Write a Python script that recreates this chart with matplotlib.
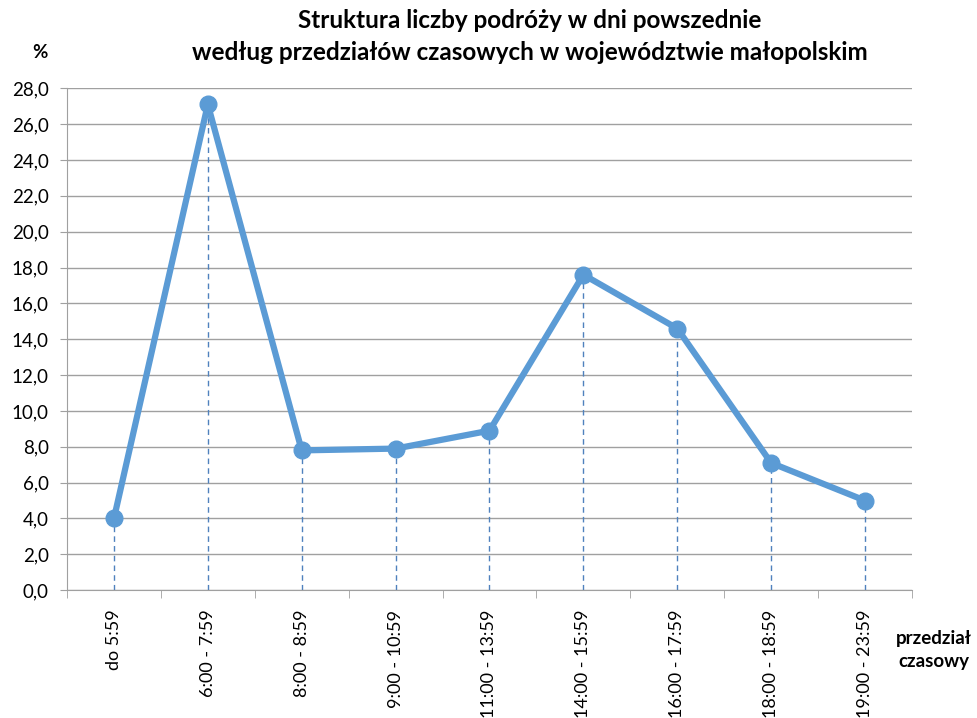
import numpy as np
import matplotlib.pyplot as plt

przedzialy = ["do 5:59", "6:00 - 7:59", "8:00 - 8:59", "9:00 - 10:59", "11:00 - 13:59",
              "14:00 - 15:59", "16:00 - 17:59", "18:00 - 18:59", "19:00 - 23:59"]
udzial = [4.0, 27.1, 7.8, 7.9, 8.9, 17.6, 14.6, 7.1, 5.0]

plt.rcParams['font.family'] = ['Lato', 'DejaVu Sans']

fig = plt.figure(figsize=(9.78, 7.18), dpi=100)
ax = fig.add_axes([0.0685, 0.178, 0.864, 0.699])

x = np.arange(len(przedzialy))
kolor = '#5B9BD5'

ax.vlines(x, 0, udzial, colors='#4F81BD', linestyles=(0, (4, 3)), linewidth=1, zorder=2)
ax.plot(x, udzial, color=kolor, linewidth=4.5, marker='o', markersize=12, zorder=3,
        solid_capstyle='round')

ax.set_xlim(-0.5, len(przedzialy) - 0.5)
ax.set_ylim(0, 28)
ax.set_yticks(np.arange(0, 28.1, 2))
ax.set_yticklabels([f"{v:.1f}".replace('.', ',') for v in np.arange(0, 28.1, 2)], fontsize=13.5)
ax.yaxis.grid(True, color='#A0A0A0', linewidth=1)
ax.set_axisbelow(True)

ax.set_xticks(x)
ax.set_xticklabels(przedzialy, rotation=90, fontsize=13)
ax.tick_params(axis='x', length=0, pad=14)
ax.set_xticks(np.arange(-0.5, len(przedzialy)), minor=True)
ax.tick_params(axis='x', which='minor', length=6, color='#A0A0A0')
ax.tick_params(axis='y', length=5, color='#A0A0A0', pad=8)

for s in ['top', 'right']:
    ax.spines[s].set_visible(False)
for s in ['left', 'bottom']:
    ax.spines[s].set_color('#A0A0A0')

fig.text(0.542, 0.972, "Struktura liczby podróży w dni powszednie", ha='center', va='center',
         fontsize=17.5, fontweight='bold')
fig.text(0.542, 0.927, "według przedziałów czasowych w województwie małopolskim", ha='center',
         va='center', fontsize=17.5, fontweight='bold')
fig.text(0.041, 0.927, "%", ha='center', va='center', fontsize=13.5, fontweight='bold')
fig.text(0.955, 0.095, "przedział\nczasowy", ha='center', va='center', fontsize=13.5,
         fontweight='bold', linespacing=1.45)

fig.savefig("out.png", dpi=100)
